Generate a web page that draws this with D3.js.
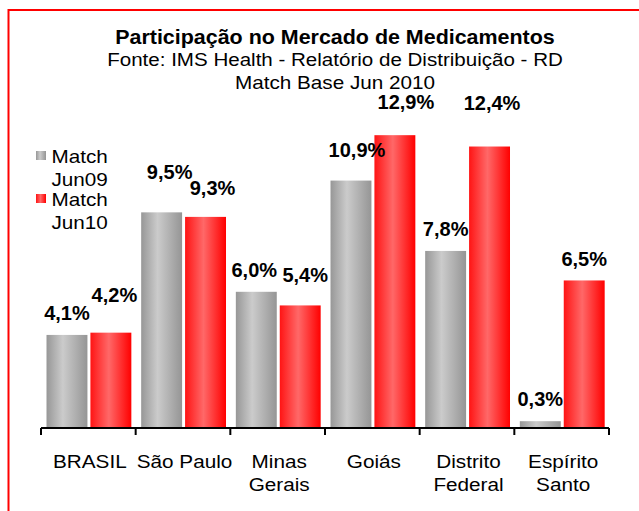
<!DOCTYPE html>
<html>
<head>
<meta charset="utf-8">
<script src="https://cdn.jsdelivr.net/npm/d3@7"></script>
<style>
  html, body { margin: 0; padding: 0; background: #fff; }
  svg { display: block; font-family: "Liberation Sans", Arial, sans-serif; }
</style>
</head>
<body>
<svg id="chart" width="639" height="511"></svg>
<script>
// ---- data ----
const categories = ["BRASIL", "São Paulo", "Minas Gerais", "Goiás", "Distrito Federal", "Espírito Santo"];
const tickLabels = [["BRASIL"], ["São Paulo"], ["Minas", "Gerais"], ["Goiás"], ["Distrito", "Federal"], ["Espírito", "Santo"]];
const seriesNames = ["Match Jun09", "Match Jun10"];
const legendLines = [["Match", "Jun09"], ["Match", "Jun10"]];
const jun09 = [4.1, 9.5, 6.0, 10.9, 7.8, 0.3];
const jun10 = [4.2, 9.3, 5.4, 12.9, 12.4, 6.5];
const titleLines = [
  "Participação  no Mercado de Medicamentos",
  "Fonte: IMS Health - Relatório de Distribuição - RD",
  "Match Base Jun 2010"
];

// ---- layout (label nudges as in the original: [dx, dy above bar top]) ----
const nudge09 = [[0, 15], [8, 33], [-2, 15], [6, 24], [0, 15], [0, 15]];
const nudge10 = [[3.5, 31], [7, 22], [5, 23], [11, 26], [2.5, 37], [0, 14.5]];

const svg = d3.select("#chart");
const defs = svg.append("defs");

function grad(id, stops) {
  const g = defs.append("linearGradient").attr("id", id)
    .attr("x1", "0%").attr("x2", "100%").attr("y1", "0%").attr("y2", "0%");
  stops.forEach(s => g.append("stop").attr("offset", s[0]).attr("stop-color", s[1]));
}
grad("gGray", [["0%", "#979797"], ["40%", "#cbcbcb"], ["100%", "#959595"]]);
grad("gRed", [["0%", "#ff1414"], ["45%", "#ff6868"], ["100%", "#ff0000"]]);
const fills = ["url(#gGray)", "url(#gRed)"];

// background + border
svg.append("rect").attr("width", 639).attr("height", 511).attr("fill", "#fff");
svg.append("rect").attr("x", 8.5).attr("y", 10).attr("width", 800).attr("height", 800)
  .attr("fill", "none").attr("stroke", "#ff0000").attr("stroke-width", 2);

// title
const tStyles = [
  { y: 44, size: 19.5, weight: "bold", sx: 1.1 },
  { y: 65.5, size: 17.5, weight: "normal", sx: 1.175 },
  { y: 89, size: 18, weight: "normal", sx: 1.15 }
];
titleLines.forEach((t, i) => {
  const s = tStyles[i];
  svg.append("text")
    .attr("transform", `translate(335,${s.y}) scale(${s.sx},1)`)
    .attr("text-anchor", "middle")
    .attr("font-size", s.size).attr("font-weight", s.weight)
    .attr("fill", "#000").text(t);
});

// scales
const x0 = d3.scaleBand().domain(categories).range([41, 609]).paddingInner(0).paddingOuter(0);
const x1 = d3.scaleBand().domain(seriesNames).range([0, x0.bandwidth()])
  .paddingInner(0.068).paddingOuter(0.112).align(0.56);
const y = d3.scaleLinear().domain([0, 14]).range([428, 428 - 14 * 22.7]);

const series = [jun09, jun10];
const nudges = [nudge09, nudge10];

// bars first
series.forEach((vals, si) => {
  svg.append("g").selectAll("rect").data(vals).enter().append("rect")
    .attr("x", (d, i) => x0(categories[i]) + x1(seriesNames[si]))
    .attr("y", d => y(d))
    .attr("width", x1.bandwidth())
    .attr("height", d => y(0) - y(d))
    .attr("fill", fills[si]);
});
// then value labels on top
series.forEach((vals, si) => {
  svg.append("g").selectAll("text").data(vals).enter().append("text")
    .attr("x", (d, i) => x0(categories[i]) + x1(seriesNames[si]) + x1.bandwidth() / 2 + nudges[si][i][0])
    .attr("y", (d, i) => y(d) - nudges[si][i][1])
    .attr("text-anchor", "middle")
    .attr("font-size", 20).attr("font-weight", "bold").attr("fill", "#000")
    .text(d => d.toFixed(1).replace(".", ",") + "%");
});

// axis
const axisG = svg.append("g");
axisG.append("line").attr("x1", x0.range()[0]).attr("x2", x0.range()[1])
  .attr("y1", y(0)).attr("y2", y(0)).attr("stroke", "#000").attr("stroke-width", 2);
const bounds = d3.range(categories.length + 1).map(i => x0.range()[0] + i * x0.step());
axisG.selectAll("line.tick").data(bounds).enter().append("line").attr("class", "tick")
  .attr("x1", d => d).attr("x2", d => d)
  .attr("y1", y(0)).attr("y2", y(0) + 7)
  .attr("stroke", "#000").attr("stroke-width", 2);

categories.forEach((c, i) => {
  const cx = x0(c) + x0.bandwidth() / 2 + 1.5;
  tickLabels[i].forEach((line, li) => {
    svg.append("text")
      .attr("transform", `translate(${cx},${468 + li * 23}) scale(1.12,1)`)
      .attr("text-anchor", "middle")
      .attr("font-size", 18.5).attr("fill", "#000")
      .text(line);
  });
});

// legend
const legendY = [151, 194];
legendLines.forEach((lines, si) => {
  svg.append("rect").attr("x", 36).attr("y", legendY[si]).attr("width", 10).attr("height", 9)
    .attr("fill", fills[si]);
  lines.forEach((ln, li) => {
    svg.append("text")
      .attr("transform", `translate(51.5,${legendY[si] + 12 + li * 22.5}) scale(1.15,1)`)
      .attr("font-size", 18).attr("fill", "#000")
      .text(ln);
  });
});
</script>
</body>
</html>
